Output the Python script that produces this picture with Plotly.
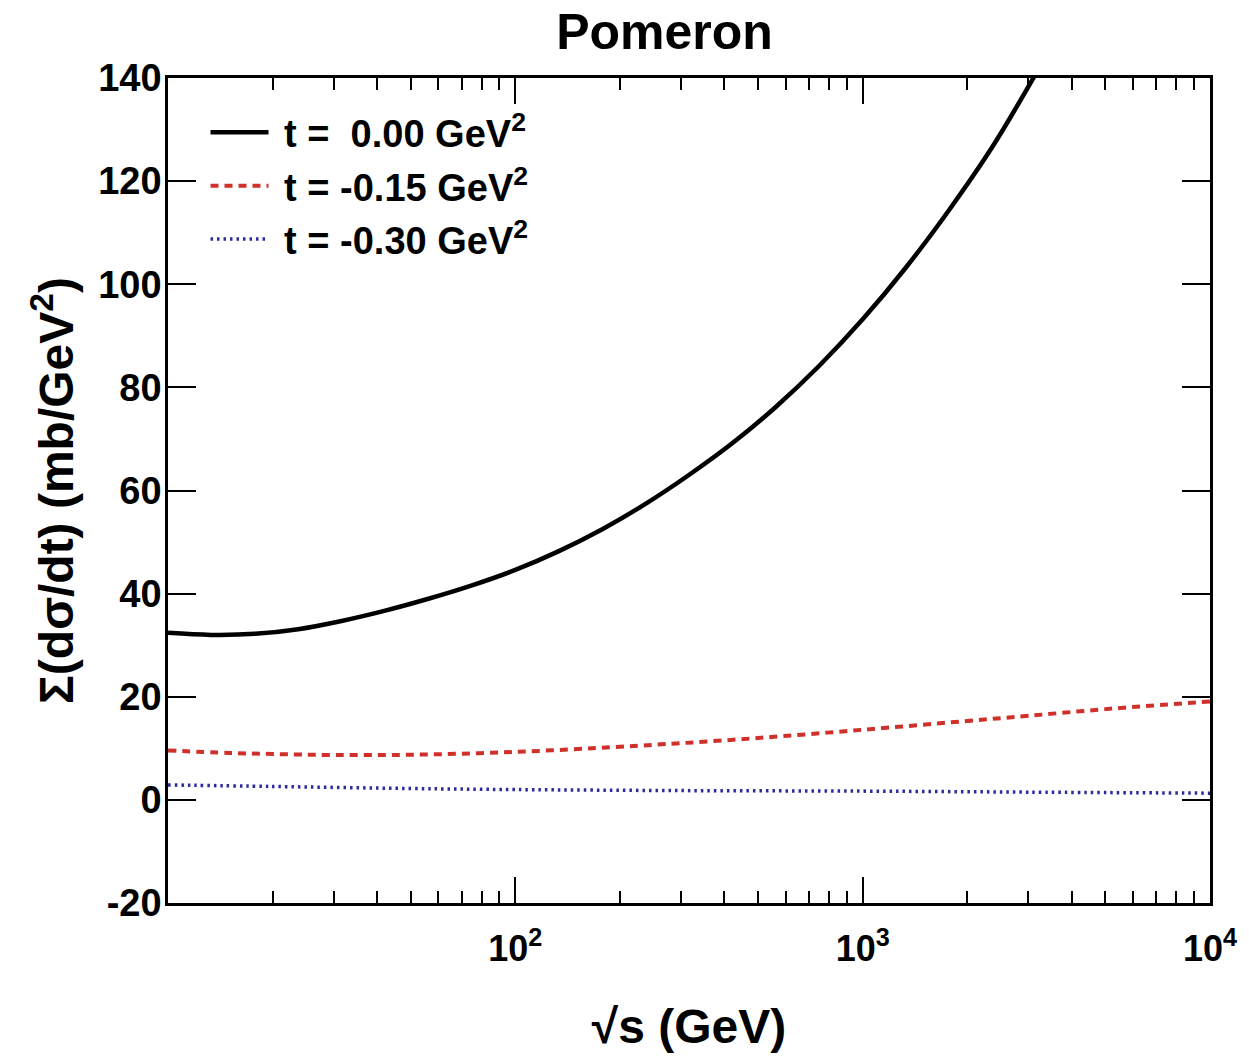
import plotly.graph_objects as go

# sqrt(s) in GeV
sqrt_s_black = [10, 13.3, 17.8, 23.7, 31.6, 42.2, 56.2, 75.0, 100, 133, 178, 237, 316, 422, 562, 750,
                1000, 1334, 1778, 2371, 3162]
sigma_t000 = [32.4, 32.0, 32.2, 33.1, 34.7, 36.7, 39.0, 41.6, 44.6, 48.2, 52.5, 57.4, 63.0, 69.2, 76.2, 84.2,
              93.2, 103.3, 114.5, 126.8, 141.0]

sqrt_s_red = [10, 15, 20, 30, 50, 100, 200, 300, 500, 1000, 2000, 3000, 5000, 10000]
sigma_t015 = [9.6, 9.1, 8.9, 8.7, 8.75, 9.3, 10.3, 11.0, 12.0, 13.6, 15.3, 16.3, 17.6, 19.1]

sqrt_s_blue = [10, 20, 50, 100, 300, 1000, 3000, 10000]
sigma_t030 = [2.9, 2.6, 2.2, 2.0, 1.8, 1.7, 1.5, 1.3]

legend_names = ["\u00a0t =\u00a0\u00a00.00 GeV<sup>2</sup>", "\u00a0t = -0.15 GeV<sup>2</sup>",
                "\u00a0t = -0.30 GeV<sup>2</sup>"]
x_tickvals = [100, 1000, 10000]
x_ticktext = ["10<sup>2</sup>", "10<sup>3</sup>", "10<sup>4</sup>"]
x_minor = [20, 30, 40, 50, 60, 70, 80, 90, 200, 300, 400, 500, 600, 700, 800, 900,
           2000, 3000, 4000, 5000, 6000, 7000, 8000, 9000]
y_tickvals = [-20, 0, 20, 40, 60, 80, 100, 120, 140]
y_ticktext = ["-20", "0", "20", "40", "60", "80", "100", "120", "140"]

FONT = "Liberation Sans, Arial, Helvetica, sans-serif"

fig = go.Figure()
fig.add_trace(go.Scatter(x=sqrt_s_black, y=sigma_t000, mode="lines", name=legend_names[0], legendgroup="a",
                         line=dict(color="black", width=4.5, shape="spline")))
fig.add_trace(go.Scatter(x=sqrt_s_red, y=sigma_t015, mode="lines", name=legend_names[1], legendgroup="b",
                         line=dict(color="#d0302a", width=4, dash="8px,6px", shape="spline")))
fig.add_trace(go.Scatter(x=sqrt_s_blue, y=sigma_t030, mode="lines", name=legend_names[2], legendgroup="c",
                         line=dict(color="#2b2b9c", width=3.5, dash="2.5px,4px", shape="spline")))

fig.update_layout(
    width=1249, height=1061,
    margin=dict(l=168, r=31, t=78, b=158),
    paper_bgcolor="white", plot_bgcolor="white",
    font=dict(family=FONT, color="black", size=36, weight="bold"),
    title=dict(text="Pomeron", x=664.5 / 1249, xanchor="center", xref="container",
               y=1 - 31 / 1061, yref="container", yanchor="middle",
               font=dict(size=50, family=FONT, weight="bold")),
    showlegend=True,
    legend=dict(x=0.036, y=0.972, xanchor="left", yanchor="top",
                bgcolor="rgba(0,0,0,0)", borderwidth=0,
                font=dict(size=38, family=FONT, weight="bold"),
                itemwidth=58, tracegroupgap=1),
)

fig.update_xaxes(
    type="log", range=[1, 4],
    showline=True, linecolor="black", linewidth=2.5, mirror="ticks",
    showgrid=False, zeroline=False,
    tickmode="array", tickvals=x_tickvals, ticktext=x_ticktext,
    ticks="inside", ticklen=26, tickwidth=2, tickcolor="black",
    ticklabelstandoff=12, ticklabeloverflow="allow",
    tickfont=dict(size=36, family=FONT, weight="bold"),
    minor=dict(tickmode="array", tickvals=x_minor, ticks="inside", ticklen=12,
               tickwidth=1.5, tickcolor="black", showgrid=False),
    title=dict(text="\u221as (GeV)", font=dict(size=48, family=FONT, weight="bold"), standoff=42),
)
fig.update_yaxes(
    range=[-20, 140],
    showline=True, linecolor="black", linewidth=2.5, mirror="ticks",
    showgrid=False, zeroline=False,
    tickmode="array", tickvals=y_tickvals, ticktext=y_ticktext,
    ticks="inside", ticklen=28, tickwidth=2, tickcolor="black",
    ticklabeloverflow="allow",
    tickfont=dict(size=38, family=FONT, weight="bold"),
    title=dict(text="\u03a3(d\u03c3/dt) (mb/GeV<sup>2</sup>)", font=dict(size=48, family=FONT, weight="bold"), standoff=10),
)
try:
    fig.update_yaxes(ticklabelstandoff=-4)
except Exception:
    fig.update_yaxes(ticklabelstandoff=0)

fig.write_html("out.html")
